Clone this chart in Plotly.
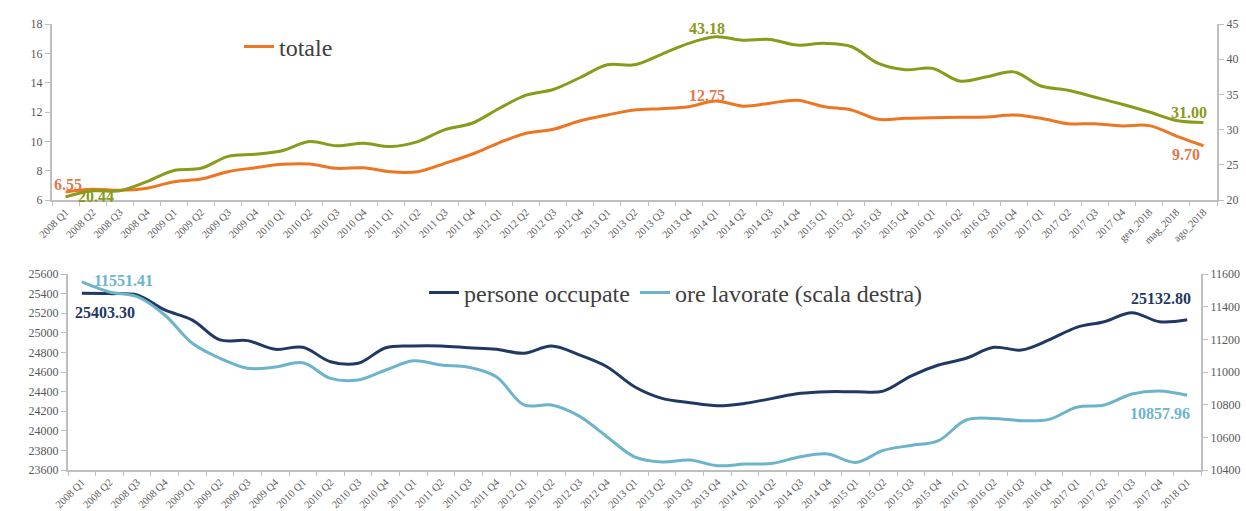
import plotly.graph_objects as go

# ---- data -------------------------------------------------------------
top_cats = [f"{y} Q{q}" for y in range(2008, 2018) for q in range(1, 5)] + ["gen_2018", "mag_2018", "ago_2018"]
totale = [6.55, 6.73, 6.66, 6.80, 7.25, 7.43, 7.93, 8.20, 8.43, 8.45, 8.16, 8.20, 7.92, 7.93,
          8.50, 9.12, 9.90, 10.55, 10.82, 11.40, 11.80, 12.14, 12.23, 12.36, 12.75, 12.40,
          12.60, 12.80, 12.36, 12.14, 11.50, 11.57, 11.60, 11.64, 11.66, 11.80, 11.57, 11.20,
          11.20, 11.05, 11.07, 10.36, 9.70]
green_right = [20.44, 21.30, 21.30, 22.60, 24.20, 24.50, 26.20, 26.50, 27.00, 28.30, 27.70, 28.05,
               27.60, 28.30, 30.00, 30.90, 33.00, 34.90, 35.70, 37.40, 39.20, 39.20, 40.70, 42.25,
               43.18, 42.70, 42.80, 42.00, 42.25, 41.80, 39.40, 38.50, 38.70, 36.90, 37.50, 38.20,
               36.20, 35.60, 34.60, 33.60, 32.50, 31.30, 31.00]

bot_cats = [f"{y} Q{q}" for y in range(2008, 2018) for q in range(1, 5)] + ["2018 Q1"]
persone = [25403.3, 25400, 25386, 25233, 25130, 24927, 24920, 24832, 24852, 24705, 24689, 24848,
           24865, 24865, 24848, 24832, 24791, 24865, 24774, 24654, 24450, 24331, 24287, 24256,
           24280, 24331, 24382, 24399, 24399, 24405, 24559, 24671, 24740, 24852, 24824, 24927,
           25056, 25113, 25205, 25113, 25132.8]
ore = [11551.41, 11490, 11461, 11349, 11176, 11084, 11023, 11030, 11057, 10961, 10951, 11012,
       11069, 11043, 11029, 10971, 10798, 10798, 10730, 10604, 10481, 10449, 10461, 10426,
       10436, 10441, 10481, 10498, 10446, 10520, 10550, 10580, 10706, 10716, 10702, 10710,
       10784, 10798, 10865, 10884, 10857.96]

ORANGE, ORANGE_TXT = "#ee7623", "#e2784e"
OLIVE = "#8a9a1b"
NAVY, SKY = "#1f3864", "#6cb4cb"
AXIS, TICK = "#bfbfbf", "#595959"
SERIF = "Liberation Serif"

# figure fills the whole window (body margin is dropped in the page, see write_html)
W, H = 1246, 511


def px_x(p):
    # window pixel -> paper fraction
    return p / W


def px_y(p):
    return 1 - p / H


fig = go.Figure()
line_kw = dict(mode="lines", line_shape="spline", hoverinfo="skip")

fig.add_trace(go.Scatter(x=top_cats, y=totale, name="totale", xaxis="x", yaxis="y",
                         line=dict(color=ORANGE, width=3), legend="legend", **line_kw))
fig.add_trace(go.Scatter(x=top_cats, y=green_right, name="totale (scala destra)", xaxis="x", yaxis="y2",
                         line=dict(color=OLIVE, width=3), showlegend=False, **line_kw))
fig.add_trace(go.Scatter(x=bot_cats, y=persone, name="persone occupate", xaxis="x2", yaxis="y3",
                         line=dict(color=NAVY, width=3), legend="legend2", **line_kw))
fig.add_trace(go.Scatter(x=bot_cats, y=ore, name="ore lavorate (scala destra)", xaxis="x2", yaxis="y4",
                         line=dict(color=SKY, width=3), legend="legend2", **line_kw))

# ---- labels on the series --------------------------------------------
def lab(x, y, text, color, xs, ys, xref="x", yref="y"):
    fig.add_annotation(x=x, y=y, text=f"<b>{text}</b>", xref=xref, yref=yref, showarrow=False,
                       xshift=xs, yshift=ys, font=dict(family=SERIF, size=16, color=color))


lab(top_cats[0], totale[0], "6.55", ORANGE_TXT, 2, 7)
lab(top_cats[0], green_right[0], "20.44", OLIVE, 30, 0, yref="y2")
lab(top_cats[24], totale[24], "12.75", ORANGE_TXT, -9, 6)
lab(top_cats[24], green_right[24], "43.18", OLIVE, -9, 8, yref="y2")
lab(top_cats[-1], green_right[-1], "31.00", OLIVE, -14, 10, yref="y2")
lab(top_cats[-1], totale[-1], "9.70", ORANGE_TXT, -17, -9)
lab(bot_cats[0], ore[0], "11551.41", SKY, 42, 1, xref="x2", yref="y4")
lab(bot_cats[0], persone[0], "25403.30", NAVY, 23, -19, xref="x2", yref="y3")
lab(bot_cats[-1], persone[-1], "25132.80", NAVY, -26, 21, xref="x2", yref="y3")
lab(bot_cats[-1], ore[-1], "10857.96", SKY, -27, -18, xref="x2", yref="y4")

# ---- axes ---------------------------------------------------------------
def xaxis_style(size, ticklen):
    return dict(type="category", tickson="boundaries", ticks="outside", ticklen=ticklen,
                tickcolor=AXIS, showline=True, linecolor=AXIS, linewidth=2, showgrid=False,
                zeroline=False, tickangle=-45, automargin=False,
                tickfont=dict(family=SERIF, size=size, color=TICK))


def yaxis_style(size=12, ticklen=5):
    return dict(ticks="outside", ticklen=ticklen, tickcolor=AXIS, showline=True, linecolor=AXIS,
                linewidth=2, showgrid=False, zeroline=False, automargin=False,
                tickfont=dict(family=SERIF, size=size, color=TICK))


legend_font = dict(family=SERIF, size=24, color="#404040")

fig.update_layout(
    template="none", width=W, height=H, margin=dict(l=0, r=0, t=0, b=0),
    paper_bgcolor="white", plot_bgcolor="white", font=dict(family=SERIF),
    xaxis=dict(**xaxis_style(10.5, 4), domain=[px_x(52), px_x(1217)], anchor="y", range=[-0.5, 42.5]),
    yaxis=dict(**yaxis_style(), domain=[px_y(200), px_y(24)], anchor="x", range=[6, 18], dtick=2),
    yaxis2=dict(**yaxis_style(), overlaying="y", side="right", anchor="x", range=[20, 45], dtick=5),
    xaxis2=dict(**xaxis_style(10.5, 4), domain=[px_x(68), px_x(1201)], anchor="y3", range=[-0.5, 40.5]),
    yaxis3=dict(**yaxis_style(), domain=[px_y(470), px_y(274)], anchor="x2", range=[23600, 25600],
                dtick=200, tickformat="d"),
    yaxis4=dict(**yaxis_style(), overlaying="y3", side="right", anchor="x2",
                range=[10400, 11600], dtick=200, tickformat="d"),
    legend=dict(x=px_x(239), y=px_y(47), xanchor="left", yanchor="middle", bgcolor="rgba(0,0,0,0)",
                font=legend_font, itemwidth=30),
    legend2=dict(orientation="h", x=px_x(424), y=px_y(293), xanchor="left", yanchor="middle",
                 bgcolor="rgba(0,0,0,0)", font=legend_font, itemwidth=30),
    showlegend=True,
)

fig.write_html("out.html", config={"displayModeBar": False},
               post_script="document.body.style.margin = '0px';")
